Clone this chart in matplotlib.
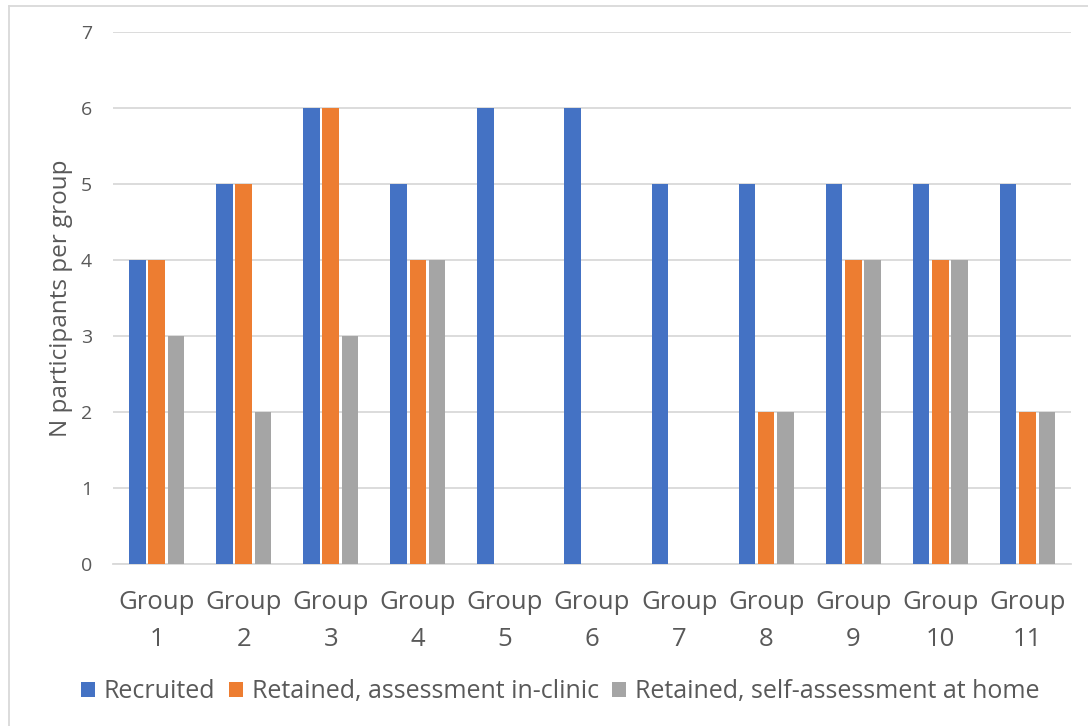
import matplotlib.pyplot as plt
import numpy as np
from matplotlib.lines import Line2D

plt.rcParams['font.family'] = ['Open Sans', 'DejaVu Sans']

groups = ['Group\n1', 'Group\n2', 'Group\n3', 'Group\n4', 'Group\n5', 'Group\n6',
          'Group\n7', 'Group\n8', 'Group\n9', 'Group\n10', 'Group\n11']
recruited = [4, 5, 6, 5, 6, 6, 5, 5, 5, 5, 5]
in_clinic = [4, 5, 6, 4, 0, 0, 0, 2, 4, 4, 2]
at_home = [3, 2, 3, 4, 0, 0, 0, 2, 4, 4, 2]

series = [
    ('Recruited', recruited, '#4472C4'),
    ('Retained, assessment in-clinic', in_clinic, '#ED7D31'),
    ('Retained, self-assessment at home', at_home, '#A5A5A5'),
]

txt = '#595959'
grid = '#D9D9D9'

fig = plt.figure(figsize=(10.88, 7.26), dpi=100)
ax = fig.add_axes([0.1039, 0.2231, 0.8805, 0.7328])

x = np.arange(len(groups))
w = 0.19
step = 0.222
for i, (label, vals, color) in enumerate(series):
    ax.bar(x + (i - 1) * step, vals, width=w, color=color, label=label, zorder=3)

ax.set_xlim(-0.5, len(groups) - 0.5)
ax.set_ylim(0, 7)
ax.set_yticks(range(8))
ax.set_xticks(x)
ax.set_xticklabels(groups, fontsize=18.5, color=txt, linespacing=1.6)
ax.tick_params(axis='y', labelsize=14, colors=txt, length=0, pad=15)
ax.tick_params(axis='x', length=0, pad=19)

ax.grid(axis='y', color=grid, linewidth=1.3, zorder=0)
for s in ['top', 'right', 'left']:
    ax.spines[s].set_visible(False)
ax.spines['bottom'].set_color(grid)
ax.spines['bottom'].set_linewidth(1.3)

ax.set_ylabel('N participants per group', fontsize=17.5, color=txt, labelpad=6)

ax.legend(loc='center', bbox_to_anchor=(0.515, 0.047), bbox_transform=fig.transFigure,
          ncol=3, frameon=False, fontsize=18, labelcolor=txt,
          handlelength=0.55, handleheight=0.55, handletextpad=0.35, columnspacing=0.55)

# chart frame: left and top edges only show within the image
fig.add_artist(Line2D([9 / 1088, 9 / 1088], [0, 1 - 6 / 726], transform=fig.transFigure,
                      color=grid, linewidth=1.3))
fig.add_artist(Line2D([9 / 1088, 1], [1 - 6 / 726, 1 - 6 / 726], transform=fig.transFigure,
                      color=grid, linewidth=1.3))

fig.savefig('out.png', dpi=100)
